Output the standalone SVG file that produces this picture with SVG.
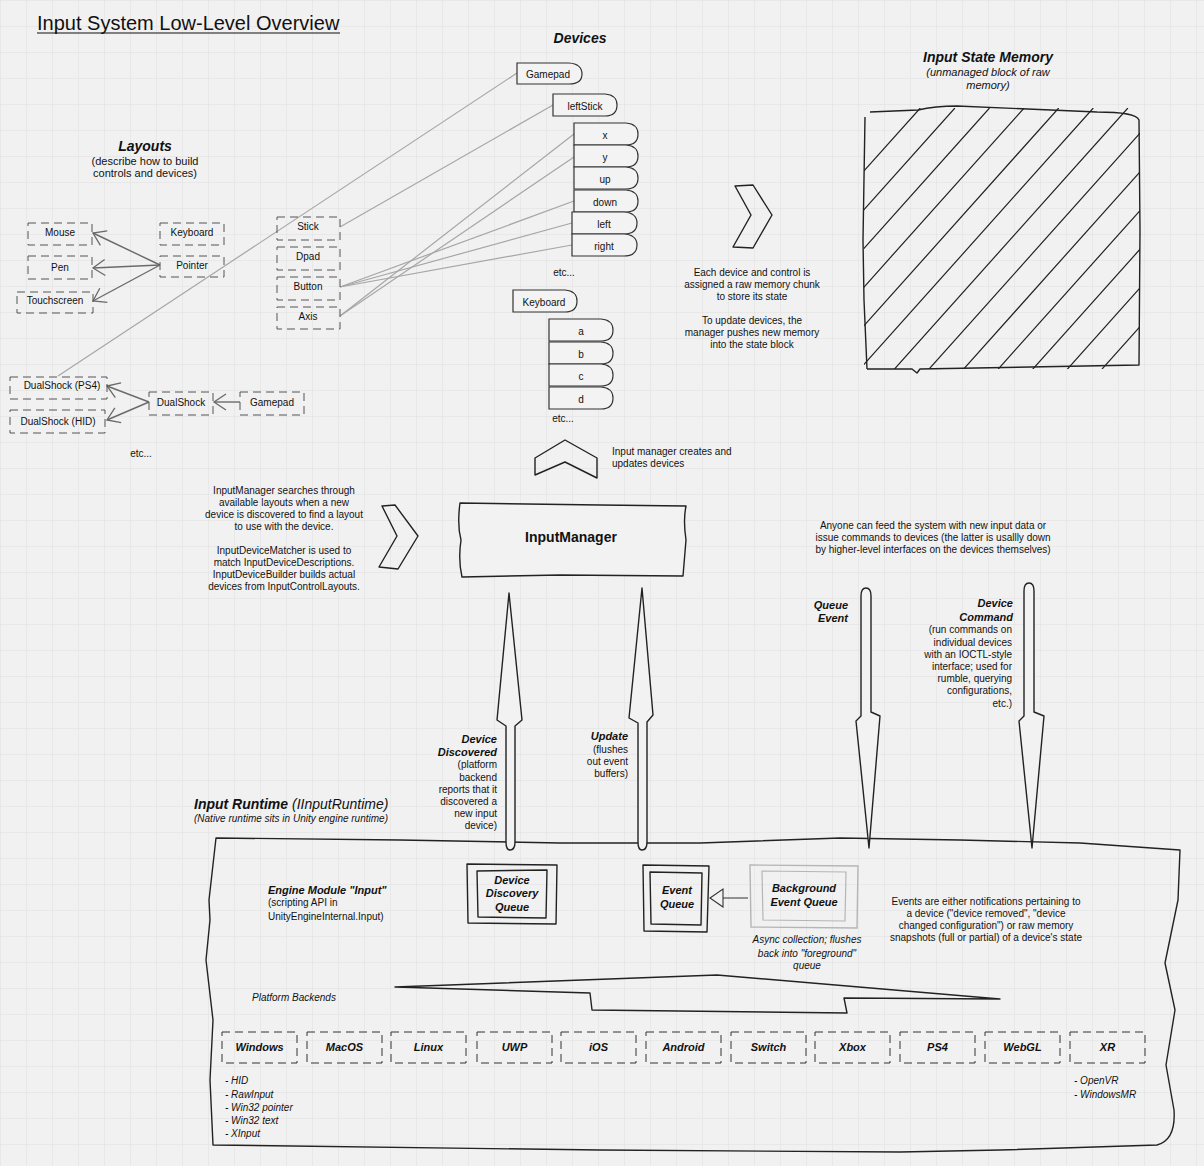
<svg xmlns="http://www.w3.org/2000/svg" width="1204" height="1166" viewBox="0 0 1204 1166">
<defs>
<pattern id="grid" width="26" height="26" patternUnits="userSpaceOnUse">
<rect width="26" height="26" fill="#f1f1f1"/>
<path d="M 26 0 L 0 0 0 26" fill="none" stroke="#e0e0e0" stroke-width="1"/>
</pattern>
<marker id="openv" viewBox="-14 -10 16 20" markerWidth="16" markerHeight="20" refX="0" refY="0" markerUnits="userSpaceOnUse" orient="auto">
<path d="M -12 -8 L 0 0 L -12 8" fill="none" stroke="#6a6a6a" stroke-width="1.3"/>
</marker>
<marker id="hollow" viewBox="-15 -11 17 22" markerWidth="17" markerHeight="22" refX="0" refY="0" markerUnits="userSpaceOnUse" orient="auto">
<path d="M -13 -9 L 0 0 L -13 9 Z" fill="#f2f2f2" stroke="#333" stroke-width="1.1"/>
</marker>
<clipPath id="memclip"><rect x="864" y="108" width="276" height="261"/></clipPath>
<style>
text{font-family:"Liberation Sans",Arial,sans-serif;fill:#111}
.t10{font-size:10px}
.c{text-anchor:middle}
.r{text-anchor:end}
.bi{font-weight:bold;font-style:italic}
.it{font-style:italic}
.lay{fill:none;stroke:#555;stroke-width:1;stroke-dasharray:8 5}
.dev{fill:#f3f3f3;stroke:#333;stroke-width:1.2}
.sk{fill:none;stroke:#222;stroke-width:1.4;stroke-linejoin:round}
.skf{fill:#f2f2f2;stroke:#222;stroke-width:1.4;stroke-linejoin:round}
.arr{fill:none;stroke:#6a6a6a;stroke-width:1.4}
.link{fill:none;stroke:#a6a6a6;stroke-width:1.2}
.plat{fill:none;stroke:#333;stroke-width:1;stroke-dasharray:8 5}
</style>
</defs>
<rect width="1204" height="1166" fill="url(#grid)"/>

<g id="title">
<text x="37" y="30" style="font-size:20px">Input System Low-Level Overview</text>
<line x1="37" y1="33" x2="340" y2="33" stroke="#111" stroke-width="1.2"/>
</g>

<g id="connectors">
<line class="link" x1="58" y1="376" x2="517" y2="73"/>
<line class="link" x1="340" y1="227" x2="553" y2="105"/>
<line class="link" x1="340" y1="316" x2="574" y2="134"/>
<line class="link" x1="340" y1="316" x2="574" y2="157"/>
<line class="link" x1="340" y1="287" x2="574" y2="201"/>
<line class="link" x1="340" y1="287" x2="572" y2="223"/>
<line class="link" x1="340" y1="287" x2="572" y2="245"/>
<line class="arr" x1="160" y1="265" x2="93" y2="233" marker-end="url(#openv)"/>
<line class="arr" x1="160" y1="265" x2="93" y2="268" marker-end="url(#openv)"/>
<line class="arr" x1="160" y1="265" x2="93" y2="301" marker-end="url(#openv)"/>
<line class="arr" x1="240" y1="402" x2="214" y2="402" marker-end="url(#openv)"/>
<line class="arr" x1="149" y1="402" x2="107" y2="386" marker-end="url(#openv)"/>
<line class="arr" x1="149" y1="402" x2="107" y2="420" marker-end="url(#openv)"/>
<line x1="748" y1="898" x2="710" y2="898" stroke="#333" stroke-width="1.2" marker-end="url(#hollow)"/>
</g>

<g id="layouts-title">
<text x="145" y="151" class="c bi" style="font-size:14px">Layouts</text>
<text x="145" y="165" class="c" style="font-size:11px">(describe how to build</text>
<text x="145" y="177" class="c" style="font-size:11px">controls and devices)</text>
</g>

<g id="layout-mouse"><rect class="lay" x="28" y="223" width="64" height="22"/><text x="60" y="236" class="c t10">Mouse</text></g>
<g id="layout-pen"><rect class="lay" x="28" y="256" width="64" height="23"/><text x="60" y="271" class="c t10">Pen</text></g>
<g id="layout-touchscreen"><rect class="lay" x="17" y="292" width="76" height="21"/><text x="55" y="304" class="c t10">Touchscreen</text></g>
<g id="layout-keyboard"><rect class="lay" x="160" y="223" width="64" height="22"/><text x="192" y="236" class="c t10">Keyboard</text></g>
<g id="layout-pointer"><rect class="lay" x="160" y="256" width="64" height="21"/><text x="192" y="269" class="c t10">Pointer</text></g>
<g id="layout-stick"><rect class="lay" x="277" y="217" width="63" height="23"/><text x="308" y="230" class="c t10">Stick</text></g>
<g id="layout-dpad"><rect class="lay" x="277" y="247" width="63" height="23"/><text x="308" y="260" class="c t10">Dpad</text></g>
<g id="layout-button"><rect class="lay" x="277" y="277" width="63" height="23"/><text x="308" y="290" class="c t10">Button</text></g>
<g id="layout-axis"><rect class="lay" x="277" y="307" width="63" height="22"/><text x="308" y="320" class="c t10">Axis</text></g>
<g id="layout-dualshock-ps4"><rect class="lay" x="10" y="377" width="97" height="22"/><text x="62" y="389" class="c t10">DualShock (PS4)</text></g>
<g id="layout-dualshock-hid"><rect class="lay" x="10" y="410" width="95" height="23"/><text x="58" y="425" class="c t10">DualShock (HID)</text></g>
<g id="layout-dualshock"><rect class="lay" x="149" y="392" width="64" height="23"/><text x="181" y="406" class="c t10">DualShock</text></g>
<g id="layout-gamepad"><rect class="lay" x="240" y="392" width="64" height="23"/><text x="272" y="406" class="c t10">Gamepad</text></g>
<g id="layout-etc"><text x="141" y="457" class="c t10">etc...</text></g>

<g id="devices-title"><text x="580" y="43" class="c bi" style="font-size:14px">Devices</text></g>

<g id="dev-gamepad"><path class="dev" d="M 517 63 L 569 63 Q 582 64 582 74 Q 582 84 569 84 L 517 84 Z"/><text x="548" y="78" class="c t10">Gamepad</text></g>
<g id="dev-leftstick"><path class="dev" d="M 553 94 L 605 94 Q 617 95 617 105 Q 617 116 605 116 L 553 116 Z"/><text x="585" y="110" class="c t10">leftStick</text></g>
<g id="dev-x"><path class="dev" d="M 574 123 L 626 123 Q 638 124 638 134 Q 638 145 626 145 L 574 145 Z"/><text x="605" y="139" class="c t10">x</text></g>
<g id="dev-y"><path class="dev" d="M 574 145 L 626 145 Q 638 146 638 156 Q 638 167 626 167 L 574 167 Z"/><text x="605" y="161" class="c t10">y</text></g>
<g id="dev-up"><path class="dev" d="M 574 167 L 626 167 Q 638 168 638 178 Q 638 189 626 189 L 574 189 Z"/><text x="605" y="183" class="c t10">up</text></g>
<g id="dev-down"><path class="dev" d="M 574 190 L 626 190 Q 638 191 638 201 Q 638 212 626 212 L 574 212 Z"/><text x="605" y="206" class="c t10">down</text></g>
<g id="dev-left"><path class="dev" d="M 572 212 L 624 212 Q 637 213 637 223 Q 637 234 624 234 L 572 234 Z"/><text x="604" y="228" class="c t10">left</text></g>
<g id="dev-right"><path class="dev" d="M 572 234 L 624 234 Q 637 235 637 245 Q 637 256 624 256 L 572 256 Z"/><text x="604" y="250" class="c t10">right</text></g>
<g id="dev-etc1"><text x="564" y="276" class="c t10">etc...</text></g>
<g id="dev-keyboard"><path class="dev" d="M 513 290 L 565 290 Q 577 291 577 301 Q 577 312 565 312 L 513 312 Z"/><text x="544" y="306" class="c t10">Keyboard</text></g>
<g id="dev-a"><path class="dev" d="M 549 319 L 601 319 Q 613 320 613 330 Q 613 341 601 341 L 549 341 Z"/><text x="581" y="335" class="c t10">a</text></g>
<g id="dev-b"><path class="dev" d="M 549 342 L 601 342 Q 613 343 613 353 Q 613 364 601 364 L 549 364 Z"/><text x="581" y="358" class="c t10">b</text></g>
<g id="dev-c"><path class="dev" d="M 549 364 L 601 364 Q 613 365 613 375 Q 613 386 601 386 L 549 386 Z"/><text x="581" y="380" class="c t10">c</text></g>
<g id="dev-d"><path class="dev" d="M 549 387 L 601 387 Q 613 388 613 398 Q 613 409 601 409 L 549 409 Z"/><text x="581" y="403" class="c t10">d</text></g>
<g id="dev-etc2"><text x="563" y="422" class="c t10">etc...</text></g>

<g id="chevron-state">
<path class="sk" d="M 735 186 L 753 185 L 772 215 L 753 248 L 733 247 L 751 215 Z"/>
<text x="752" y="276" class="c t10">Each device and control is</text>
<text x="752" y="288" class="c t10">assigned a raw memory chunk</text>
<text x="752" y="300" class="c t10">to store its state</text>
<text x="752" y="324" class="c t10">To update devices, the</text>
<text x="752" y="336" class="c t10">manager pushes new memory</text>
<text x="752" y="348" class="c t10">into the state block</text>
</g>

<g id="input-state-memory">
<text x="988" y="62" class="c bi" style="font-size:14px">Input State Memory</text>
<text x="988" y="76" class="c it" style="font-size:11px">(unmanaged block of raw</text>
<text x="988" y="89" class="c it" style="font-size:11px">memory)</text>
<path clip-path="url(#memclip)" fill="none" stroke="#222" stroke-width="1.2" d="M 920.3 108 L 686 370 M 954.9 108 L 720.6 370 M 989.5 108 L 755.2 370 M 1024.1 108 L 789.8 370 M 1058.7 108 L 824.4 370 M 1093.3 108 L 859 370 M 1127.9 108 L 893.6 370 M 1162.5 108 L 928.2 370 M 1197.1 108 L 962.8 370 M 1231.7 108 L 997.4 370 M 1266.3 108 L 1032 370 M 1300.9 108 L 1066.6 370 M 1335.5 108 L 1101.2 370"/>
<path class="sk" d="M 870 112 L 918 110 Q 935 106 957 106 L 1097 112 Q 1136 112 1139 120 L 1140 230 L 1139 365 L 1030 367 L 920 369 L 917 373 L 912 369 L 867 369 M 865 117 L 863 240 L 864 300 L 867 369"/>
</g>

<g id="chevron-up">
<path class="sk" d="M 535 458 L 565 440 L 597 458 L 597 478 L 565 462 L 535 475 Z"/>
<text x="612" y="455" class="t10">Input manager creates and</text>
<text x="612" y="467" class="t10">updates devices</text>
</g>

<g id="chevron-layouts">
<path class="sk" d="M 382 506 L 395 505 L 418 536 L 398 569 L 379 567 L 397 536 Z"/>
<text x="284" y="494" class="c t10">InputManager searches through</text>
<text x="284" y="506" class="c t10">available layouts when a new</text>
<text x="284" y="518" class="c t10">device is discovered to find a layout</text>
<text x="284" y="530" class="c t10">to use with the device.</text>
<text x="284" y="554" class="c t10">InputDeviceMatcher is used to</text>
<text x="284" y="566" class="c t10">match InputDeviceDescriptions.</text>
<text x="284" y="578" class="c t10">InputDeviceBuilder builds actual</text>
<text x="284" y="590" class="c t10">devices from InputControlLayouts.</text>
</g>

<g id="input-manager">
<path class="skf" d="M 460 503 L 600 505 L 686 506 Q 683 520 686 540 L 683 576 L 560 575 L 462 577 Q 458 560 461 540 Q 457 525 460 503 Z"/>
<text x="571" y="542" class="c" style="font-size:14px;font-weight:bold">InputManager</text>
</g>

<g id="feed-note">
<text x="933" y="529" class="c t10">Anyone can feed the system with new input data or</text>
<text x="933" y="541" class="c t10">issue commands to devices (the latter is usallly down</text>
<text x="933" y="553" class="c t10">by higher-level interfaces on the devices themselves)</text>
</g>

<g id="runtime">
<path class="sk" d="M 216 838 L 400 840 L 560 843 L 700 843 L 840 838 L 960 840 L 1080 843 L 1180 850 L 1178 900 L 1165 963 L 1175 1010 L 1166 1065 L 1174 1110 Q 1176 1140 1157 1145 L 1000 1150 L 900 1152 L 600 1150 L 213 1145 L 210 1080 L 213 1020 L 206 960 L 210 920 L 209 900 L 216 838 Z"/>
<text x="194" y="809" style="font-size:14px"><tspan class="bi">Input Runtime</tspan><tspan class="it"> (IInputRuntime)</tspan></text>
<text x="194" y="822" class="t10 it">(Native runtime sits in Unity engine runtime)</text>
<text x="268" y="894" class="bi" style="font-size:11px">Engine Module "Input"</text>
<text x="268" y="906" class="t10">(scripting API in</text>
<text x="268" y="920" class="t10">UnityEngineInternal.Input)</text>
</g>

<g id="arrow-device-discovered">
<path class="skf" d="M 509 593 L 497 720 L 506 726 L 506 842 Q 506 850 510 850 Q 515 850 515 842 L 515 726 L 522 720 Z"/>
<text x="497" y="743" class="r bi" style="font-size:11px">Device</text>
<text x="497" y="756" class="r bi" style="font-size:11px">Discovered</text>
<text x="497" y="768" class="r t10">(platform</text>
<text x="497" y="781" class="r t10">backend</text>
<text x="497" y="793" class="r t10">reports that it</text>
<text x="497" y="805" class="r t10">discovered a</text>
<text x="497" y="817" class="r t10">new input</text>
<text x="497" y="829" class="r t10">device)</text>
</g>

<g id="arrow-update">
<path class="skf" d="M 642 588 L 629 718 L 638 723 L 638 842 Q 638 850 642 850 Q 647 850 647 842 L 647 722 L 653 715 Z"/>
<text x="628" y="740" class="r bi" style="font-size:11px">Update</text>
<text x="628" y="753" class="r t10">(flushes</text>
<text x="628" y="765" class="r t10">out event</text>
<text x="628" y="777" class="r t10">buffers)</text>
</g>

<g id="arrow-queue-event">
<path class="skf" d="M 861 716 L 861 596 Q 861 588 866 588 Q 871 588 871 596 L 871 712 L 880 716 L 869 848 L 856 721 Z"/>
<text x="848" y="609" class="r bi" style="font-size:11px">Queue</text>
<text x="848" y="622" class="r bi" style="font-size:11px">Event</text>
</g>

<g id="arrow-device-command">
<path class="skf" d="M 1024 716 L 1024 591 Q 1024 583 1029 583 Q 1034 583 1034 591 L 1034 712 L 1044 716 L 1032 848 L 1019 721 Z"/>
<text x="1013" y="607" class="r bi" style="font-size:11px">Device</text>
<text x="1013" y="621" class="r bi" style="font-size:11px">Command</text>
<text x="1012" y="633" class="r t10">(run commands on</text>
<text x="1012" y="646" class="r t10">individual devices</text>
<text x="1012" y="658" class="r t10">with an IOCTL-style</text>
<text x="1012" y="670" class="r t10">interface; used for</text>
<text x="1012" y="682" class="r t10">rumble, querying</text>
<text x="1012" y="694" class="r t10">configurations,</text>
<text x="1012" y="707" class="r t10">etc.)</text>
</g>

<g id="device-discovery-queue">
<path class="sk" d="M 467 864 L 557 865 L 556 924 L 468 923 Z"/>
<path class="sk" d="M 477 871 L 547 870 L 546 918 L 478 917 Z"/>
<text x="512" y="884" class="c bi" style="font-size:11px">Device</text>
<text x="512" y="897" class="c bi" style="font-size:11px">Discovery</text>
<text x="512" y="911" class="c bi" style="font-size:11px">Queue</text>
</g>

<g id="event-queue">
<path class="sk" d="M 643 865 L 709 866 L 707 932 L 644 931 Z"/>
<path class="sk" d="M 650 872 L 702 873 L 701 925 L 651 924 Z"/>
<text x="677" y="894" class="c bi" style="font-size:11px">Event</text>
<text x="677" y="908" class="c bi" style="font-size:11px">Queue</text>
</g>

<g id="background-event-queue">
<path fill="none" stroke="#b5b5b5" stroke-width="1.4" d="M 750 865 L 858 866 L 857 928 L 751 927 Z"/>
<path fill="none" stroke="#b5b5b5" stroke-width="1.2" d="M 762 871 L 846 872 L 845 921 L 763 920 Z"/>
<text x="804" y="892" class="c bi" style="font-size:11px">Background</text>
<text x="804" y="906" class="c bi" style="font-size:11px">Event Queue</text>
<text x="807" y="943" class="c it t10">Async collection; flushes</text>
<text x="807" y="957" class="c it t10">back into "foreground"</text>
<text x="807" y="969" class="c it t10">queue</text>
</g>

<g id="events-note">
<text x="986" y="905" class="c t10">Events are either notifications pertaining to</text>
<text x="986" y="917" class="c t10">a device ("device removed", "device</text>
<text x="986" y="929" class="c t10">changed configuration") or raw memory</text>
<text x="986" y="941" class="c t10">snapshots (full or partial) of a device's state</text>
</g>

<g id="platform-backends">
<path class="sk" d="M 395 987 L 717 975 L 1000 999 L 844 998 L 847 1013 L 592 1010 L 590 993 Z"/>
<text x="252" y="1001" class="it t10">Platform Backends</text>
</g>

<g id="platforms">
<g id="p-windows"><rect class="plat" x="222" y="1032" width="75" height="31"/><text x="259.5" y="1051" class="c bi" style="font-size:11px">Windows</text></g>
<g id="p-macos"><rect class="plat" x="307" y="1032" width="75" height="31"/><text x="344.5" y="1051" class="c bi" style="font-size:11px">MacOS</text></g>
<g id="p-linux"><rect class="plat" x="391" y="1032" width="75" height="31"/><text x="428.5" y="1051" class="c bi" style="font-size:11px">Linux</text></g>
<g id="p-uwp"><rect class="plat" x="477" y="1032" width="75" height="31"/><text x="514.5" y="1051" class="c bi" style="font-size:11px">UWP</text></g>
<g id="p-ios"><rect class="plat" x="561" y="1032" width="75" height="31"/><text x="598.5" y="1051" class="c bi" style="font-size:11px">iOS</text></g>
<g id="p-android"><rect class="plat" x="646" y="1032" width="75" height="31"/><text x="683.5" y="1051" class="c bi" style="font-size:11px">Android</text></g>
<g id="p-switch"><rect class="plat" x="731" y="1032" width="75" height="31"/><text x="768.5" y="1051" class="c bi" style="font-size:11px">Switch</text></g>
<g id="p-xbox"><rect class="plat" x="815" y="1032" width="75" height="31"/><text x="852.5" y="1051" class="c bi" style="font-size:11px">Xbox</text></g>
<g id="p-ps4"><rect class="plat" x="900" y="1032" width="75" height="31"/><text x="937.5" y="1051" class="c bi" style="font-size:11px">PS4</text></g>
<g id="p-webgl"><rect class="plat" x="985" y="1032" width="75" height="31"/><text x="1022.5" y="1051" class="c bi" style="font-size:11px">WebGL</text></g>
<g id="p-xr"><rect class="plat" x="1070" y="1032" width="75" height="31"/><text x="1107.5" y="1051" class="c bi" style="font-size:11px">XR</text></g>
<text x="225" y="1084" class="it t10">- HID</text>
<text x="225" y="1098" class="it t10">- RawInput</text>
<text x="225" y="1111" class="it t10">- Win32 pointer</text>
<text x="225" y="1124" class="it t10">- Win32 text</text>
<text x="225" y="1137" class="it t10">- XInput</text>
<text x="1074" y="1084" class="it t10">- OpenVR</text>
<text x="1074" y="1098" class="it t10">- WindowsMR</text>
</g>
</svg>
